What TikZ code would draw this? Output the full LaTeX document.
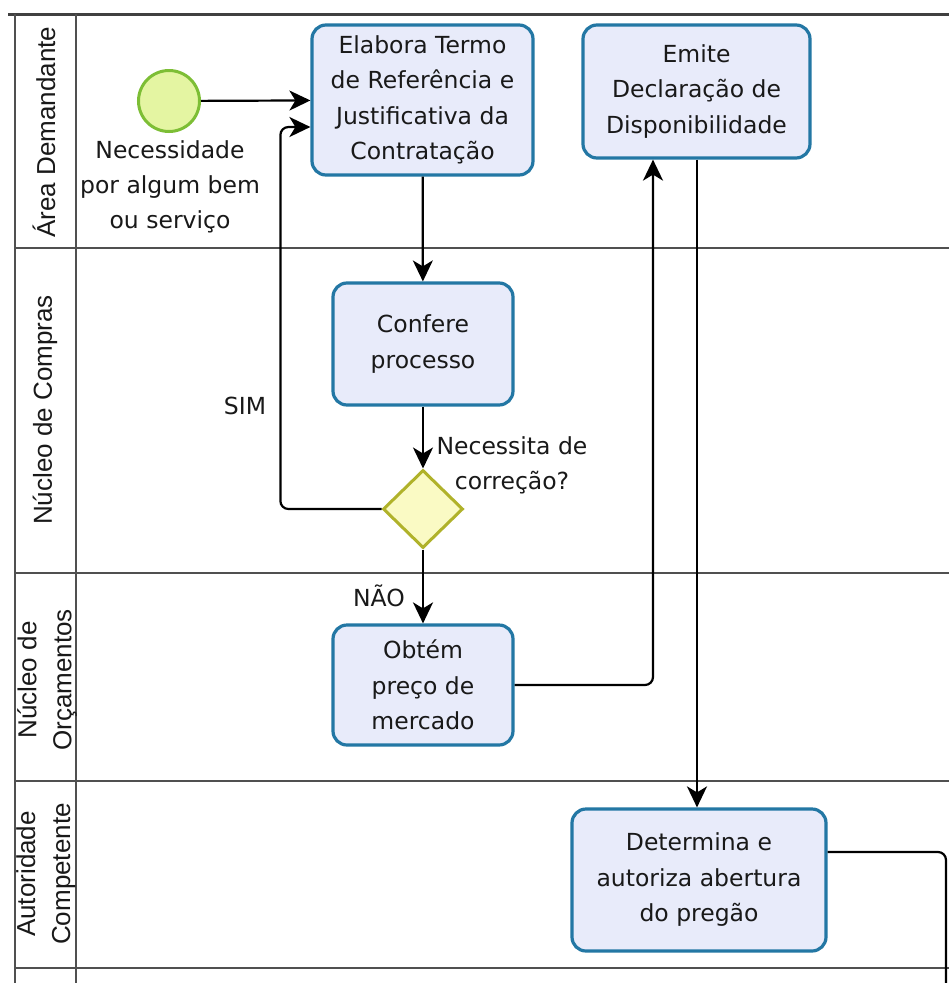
\documentclass[tikz,border=0pt]{standalone}
\usepackage{fontspec}
\usetikzlibrary{shapes.geometric,arrows.meta,calc}
\newfontfamily\flowfont{DejaVu Sans}
\newfontfamily\poolfont{Liberation Sans}
\definecolor{taskfill}{HTML}{E8EBFA}
\definecolor{taskline}{HTML}{2377A4}
\definecolor{gatefill}{HTML}{FAFAC4}
\definecolor{gateline}{HTML}{B0B22A}
\definecolor{startfill}{HTML}{E4F5A2}
\definecolor{startline}{HTML}{7DBE35}
\definecolor{laneline}{HTML}{505050}
\tikzset{
  task/.style={draw=taskline, fill=taskfill, line width=3.2pt, rounded corners=14pt,
    align=center, inner sep=0pt, text=black!90,
    font=\flowfont\fontsize{23.5}{35.5}\selectfont},
  gate/.style={draw=gateline, fill=gatefill, line width=3pt, diamond, aspect=1,
    minimum width=80pt, minimum height=78pt, inner sep=0pt},
  startev/.style={draw=startline, fill=startfill, line width=3pt, circle,
    minimum size=61pt, inner sep=0pt},
  lbl/.style={align=center, inner sep=0pt, text=black!90,
    font=\flowfont\fontsize{23.5}{35}\selectfont},
  lanelbl/.style={rotate=90, align=center, inner sep=0pt, text=black!90,
    font=\poolfont\fontsize{26}{35}\selectfont},
  lane/.style={draw=laneline, line width=2.2pt},
  flow/.style={draw=black, line width=2.2pt,
    -{Stealth[length=21pt,width=20pt,inset=6pt]}},
  plainflow/.style={draw=black, line width=2.2pt}
}
\begin{document}
\begin{tikzpicture}[x=1pt,y=-1pt]
\useasboundingbox (0,0) rectangle (949,983);
\fill[white] (0,0) rectangle (949,983);

% pool frame and lanes
\draw[lane, line width=3pt, draw=black!75] (8,14) -- (949,14);
\draw[lane] (15,14) -- (15,983);
\draw[lane] (76,14) -- (76,983);
\foreach \yy in {248,573,781,968} \draw[lane] (15,\yy) -- (949,\yy);

% lane titles
\node[lanelbl] (laneA) at (44,132) {Área Demandante};
\node[lanelbl] (laneB) at (45,410) {Núcleo de Compras};
\node[lanelbl] (laneC) at (47,680) {Núcleo de\\Orçamentos};
\node[lanelbl] (laneD) at (46,874) {Autoridade\\Competente};

% events, tasks and gateway
\node[startev] (start) at (169,101) {};
\node[lbl] (startlbl) at (170,187) {Necessidade\\por algum bem\\ou serviço};

\node[task, minimum width=221pt, minimum height=150pt] (termo) at (422.5,100)
  {Elabora Termo\\de Referência e\\Justificativa da\\Contratação};
\node[task, minimum width=227pt, minimum height=133pt] (emite) at (696.5,91.5)
  {Emite\\Declaração de\\Disponibilidade};
\node[task, minimum width=180pt, minimum height=122pt] (confere) at (423,344)
  {Confere\\processo};
\node[gate] (gate) at (423,509) {};
\node[task, minimum width=180pt, minimum height=120pt] (obtem) at (423,685)
  {Obtém\\preço de\\mercado};
\node[task, minimum width=254pt, minimum height=142pt] (determina) at (699,880)
  {Determina e\\autoriza abertura\\do pregão};

% gateway and branch labels
\node[lbl] (gatelbl) at (512,465) {Necessita de\\correção?};
\node[lbl] (simlbl) at (245,406) {SIM};
\node[lbl] (naolbl) at (379,596) {NÃO};

\coordinate (exit) at (946,983);

% sequence flows
\draw[flow] (start) -- (termo);
\draw[flow] (termo) -- (confere);
\draw[flow] (confere) -- (gate);
\draw[flow] (gate) -- (obtem);
\draw[flow, rounded corners=8pt] (gate.west) -- ($(termo.west)+(-30,409)$)
  -- ($(termo.west)+(-30,27)$) -- ($(termo.west)+(0,27)$);
\draw[flow, rounded corners=8pt] (obtem.east) -| ($(emite.south)+(-43.5,0)$);
\draw[flow] ($(emite.south)+(0.5,0)$) -- ($(emite.south |- determina.north)+(0.5,0)$);
\draw[plainflow, rounded corners=8pt] ($(determina.east)+(0,-28)$) -| (exit);
\end{tikzpicture}
\end{document}
